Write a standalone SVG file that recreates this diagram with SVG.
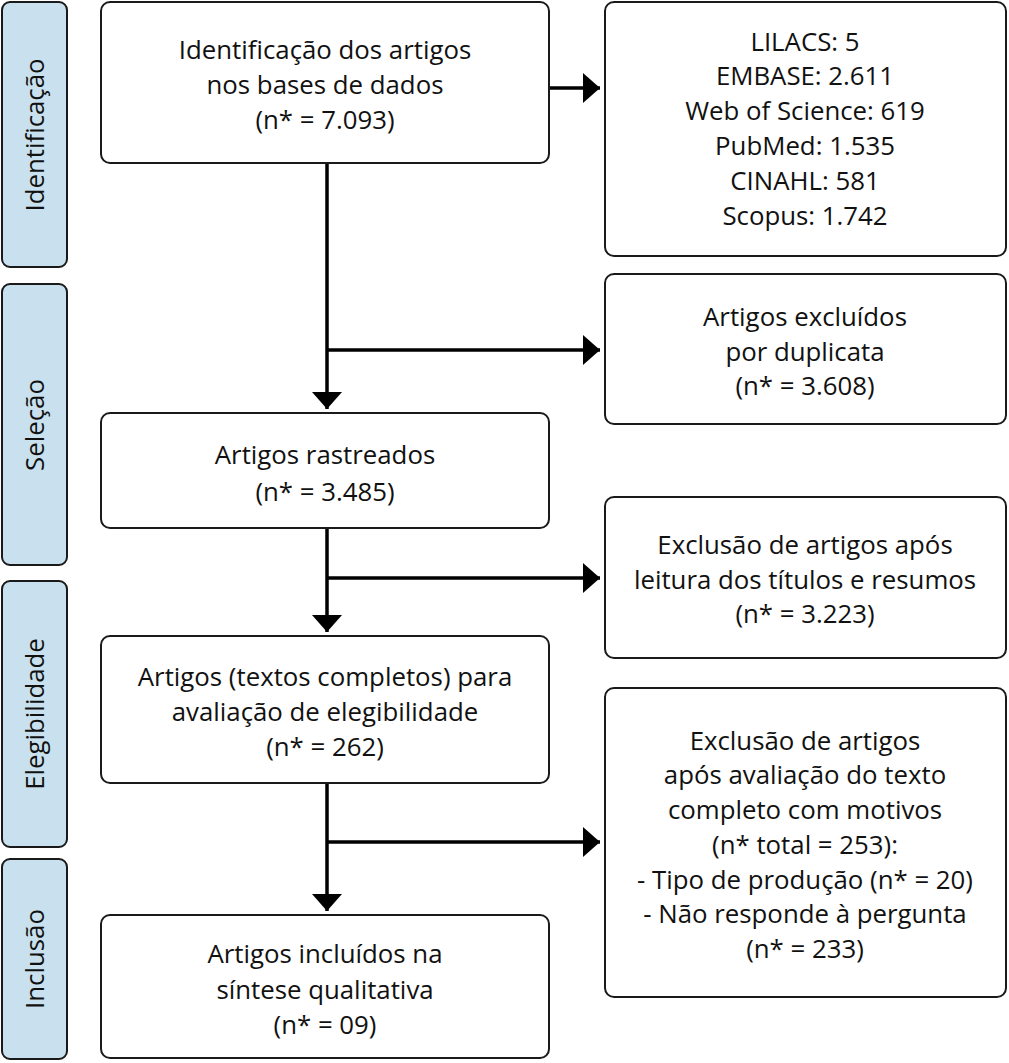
<svg xmlns="http://www.w3.org/2000/svg" width="1009" height="1063" viewBox="0 0 1009 1063">
<defs>
<style>
.box{fill:#fff;stroke:#1a1a1a;stroke-width:2}
.side{fill:#c9e1ef;stroke:#1a1a1a;stroke-width:2}
.t{font-family:"Open Sans","Liberation Sans",sans-serif;font-size:25.8px;fill:#111;text-anchor:middle}
.ln{stroke:#000;stroke-width:3.5;fill:none}
</style>
<marker id="ah" viewBox="0 0 17 30" refX="17" refY="15" markerWidth="17" markerHeight="30" markerUnits="userSpaceOnUse" orient="auto">
<path d="M0,0 L17,15 L0,30 Z" fill="#000"/>
</marker>
</defs>
<rect width="1009" height="1063" fill="#fff"/>
<g id="side-identificacao"><rect class="side" x="2" y="2" width="65" height="265" rx="8"/><text class="t" transform="translate(44,135) rotate(-90)">Identificação</text></g>
<g id="side-selecao"><rect class="side" x="2" y="284" width="65" height="281" rx="8"/><text class="t" transform="translate(44,425) rotate(-90)">Seleção</text></g>
<g id="side-elegibilidade"><rect class="side" x="2" y="581" width="65" height="266" rx="8"/><text class="t" transform="translate(44,714) rotate(-90)">Elegibilidade</text></g>
<g id="side-inclusao"><rect class="side" x="2" y="859" width="65" height="200" rx="8"/><text class="t" transform="translate(44,959) rotate(-90)">Inclusão</text></g>

<g id="connectors">
<line class="ln" x1="549" y1="88" x2="600" y2="88" marker-end="url(#ah)"/>
<line class="ln" x1="327" y1="163" x2="327" y2="409" marker-end="url(#ah)"/>
<line class="ln" x1="327" y1="350" x2="600" y2="350" marker-end="url(#ah)"/>
<line class="ln" x1="327" y1="528" x2="327" y2="632" marker-end="url(#ah)"/>
<line class="ln" x1="327" y1="578" x2="600" y2="578" marker-end="url(#ah)"/>
<line class="ln" x1="327" y1="783" x2="327" y2="911" marker-end="url(#ah)"/>
<line class="ln" x1="327" y1="842" x2="600" y2="842" marker-end="url(#ah)"/>
</g>

<g id="n-identificacao"><rect class="box" x="101" y="2" width="448" height="161" rx="9"/>
<text class="t" x="325" y="59">Identificação dos artigos</text>
<text class="t" x="325" y="94">nos bases de dados</text>
<text class="t" x="325" y="129">(n* = 7.093)</text></g>

<g id="n-bases"><rect class="box" x="605" y="2" width="401" height="254" rx="9"/>
<text class="t" x="805" y="51">LILACS: 5</text>
<text class="t" x="805" y="85">EMBASE: 2.611</text>
<text class="t" x="805" y="120">Web of Science: 619</text>
<text class="t" x="805" y="155">PubMed: 1.535</text>
<text class="t" x="805" y="190">CINAHL: 581</text>
<text class="t" x="805" y="225">Scopus: 1.742</text></g>

<g id="n-duplicata"><rect class="box" x="605" y="274" width="401" height="150" rx="9"/>
<text class="t" x="805" y="326">Artigos excluídos</text>
<text class="t" x="805" y="361">por duplicata</text>
<text class="t" x="805" y="395">(n* = 3.608)</text></g>

<g id="n-rastreados"><rect class="box" x="101" y="413" width="448" height="115" rx="9"/>
<text class="t" x="325" y="464">Artigos rastreados</text>
<text class="t" x="325" y="501">(n* = 3.485)</text></g>

<g id="n-exclusao-titulos"><rect class="box" x="605" y="497" width="401" height="161" rx="9"/>
<text class="t" x="805" y="554">Exclusão de artigos após</text>
<text class="t" x="805" y="589">leitura dos títulos e resumos</text>
<text class="t" x="805" y="623">(n* = 3.223)</text></g>

<g id="n-elegibilidade"><rect class="box" x="101" y="636" width="448" height="147" rx="9"/>
<text class="t" x="325" y="686">Artigos (textos completos) para</text>
<text class="t" x="325" y="721">avaliação de elegibilidade</text>
<text class="t" x="325" y="756">(n* = 262)</text></g>

<g id="n-exclusao-texto"><rect class="box" x="605" y="688" width="401" height="309" rx="9"/>
<text class="t" x="805" y="750">Exclusão de artigos</text>
<text class="t" x="805" y="784">após avaliação do texto</text>
<text class="t" x="805" y="819">completo com motivos</text>
<text class="t" x="805" y="854">(n* total = 253):</text>
<text class="t" x="805" y="889">- Tipo de produção (n* = 20)</text>
<text class="t" x="805" y="923">- Não responde à pergunta</text>
<text class="t" x="805" y="958">(n* = 233)</text></g>

<g id="n-incluidos"><rect class="box" x="101" y="915" width="448" height="143" rx="9"/>
<text class="t" x="325" y="963">Artigos incluídos na</text>
<text class="t" x="325" y="999">síntese qualitativa</text>
<text class="t" x="325" y="1034">(n* = 09)</text></g>
</svg>
